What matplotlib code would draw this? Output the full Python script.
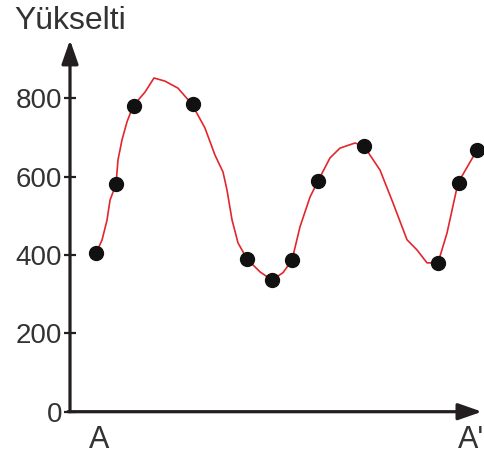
import matplotlib
matplotlib.use('Agg')
import matplotlib.pyplot as plt

plt.rcParams['font.family'] = ['Liberation Sans', 'DejaVu Sans']

# measured points (distance along A-A' profile, elevation)
dot_x = [26, 46, 64, 123, 177, 202, 222, 248, 294, 368, 389, 407]
dot_y = [405, 581, 780, 785, 390, 336, 387, 589, 678, 380, 584, 668]

# red profile line
line_x = [26, 32, 37, 40, 46, 48, 52, 57, 63, 75, 84, 95, 108, 122, 135,
          145, 153, 157, 162, 168, 177, 190, 202, 213, 222, 230, 240, 248,
          260, 270, 285, 294, 310, 323, 337, 347, 357, 368, 377, 388, 407]
line_y = [405, 438, 489, 540, 581, 643, 694, 740, 780, 816, 852, 844, 826,
          785, 724, 655, 612, 566, 490, 431, 390, 357, 336, 355, 387, 472,
          548, 589, 648, 673, 686, 678, 617, 533, 439, 413, 380, 380, 456,
          584, 668]

yticks = [0, 200, 400, 600, 800]
ink = '#231f20'
txt = '#333333'

fig = plt.figure(figsize=(4.84, 4.63), dpi=100)
ax = fig.add_axes([70 / 484, 51.3 / 463, 414 / 484, 371.7 / 463])
ax.set_xlim(0, 414)
ax.set_ylim(0, 949)

ax.plot(line_x, line_y, color='#e2262b', lw=1.2, zorder=2,
        solid_joinstyle='round')
ax.plot(dot_x, dot_y, 'o', color='#111111', ms=10, zorder=3)

for s in ax.spines.values():
    s.set_visible(False)

# axes with arrow heads
arrow = dict(arrowstyle='-|>,head_length=0.8,head_width=0.28', color=ink,
             lw=2.3, mutation_scale=18, shrinkA=0, shrinkB=0)
ax.annotate('', xy=(0, 1), xytext=(0, 0), xycoords='axes fraction',
            arrowprops=arrow, annotation_clip=False)
ax.annotate('', xy=(0.995, 0), xytext=(-0.005, 0), xycoords='axes fraction',
            arrowprops=arrow, annotation_clip=False)

ax.set_yticks(yticks)
ax.set_yticklabels([str(v) for v in yticks])
ax.tick_params(axis='y', direction='inout', length=9, width=1.6,
               color=ink, labelsize=20, labelcolor=txt, pad=1)
ax.set_xticks([])

ax.text(29, -72, 'A', ha='center', va='center', fontsize=22,
        color=txt, clip_on=False)
ax.text(388, -72, "A'", ha='left', va='center', fontsize=22,
        color=txt, clip_on=False)
fig.text(14 / 484, 1 - 21 / 463, 'Yükselti', ha='left', va='center',
         fontsize=23, color=txt)

fig.savefig('out.png', dpi=100)
